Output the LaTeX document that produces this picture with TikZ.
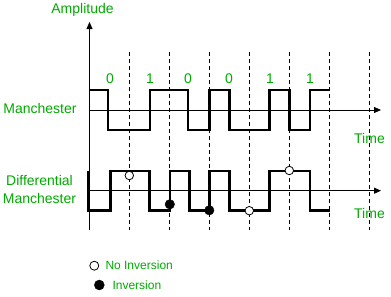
\documentclass[tikz,border=0pt]{standalone}
\usepackage{fontspec}
\setmainfont{Liberation Sans}
\usetikzlibrary{positioning, arrows.meta}
\definecolor{labelgreen}{RGB}{0,170,0}

\begin{document}
\begin{tikzpicture}[x=1pt,y=-1pt,>={Triangle[length=7pt,width=6pt]},
    label text/.style={text=labelgreen,font=\fontsize{14}{18}\selectfont,inner sep=0pt},
    legend text/.style={text=labelgreen,font=\fontsize{12}{14}\selectfont,anchor=west,inner sep=0pt},
    wave/.style={line width=2.8pt,line join=miter},
    axis line/.style={line width=0.8pt},
    grid line/.style={dashed,line width=0.7pt,dash pattern=on 4pt off 3pt},
    open dot/.style={circle,draw,fill=white,inner sep=0pt,minimum size=8.5pt,line width=0.8pt},
    full dot/.style={circle,draw,fill=black,inner sep=0pt,minimum size=9.5pt}]
    \useasboundingbox (0,0) rectangle (391,297);

    % axes
    \coordinate (origin) at (89.5,230);
    \coordinate (ytop) at (89.5,22);
    \coordinate (mstart) at (89.5,110);
    \coordinate (mend) at (381,110);
    \coordinate (dstart) at (89.5,190.7);
    \coordinate (dend) at (381,190.7);
    \draw[axis line,->] (origin) -- (ytop);
    \draw[axis line,->] (mstart) -- (mend);
    \draw[axis line,->] (dstart) -- (dend);
    \node[label text] (amp) at (82.5,10) {Amplitude};

    % bit boundaries
    \foreach \i in {1,...,7}
        \draw[grid line] (89.5+40*\i,52) -- (89.5+40*\i,230);

    % bits
    \foreach \b/\x in {0/110,1/150,0/188,0/229,1/270,1/310}
        \node[label text] (bit\x) at (\x,79) {\b};

    % Manchester signal
    \node[label text] (manch) at (40,108) {Manchester};
    \node[label text] (time1) at (369.5,138) {Time};
    \draw[wave] (89.5,90) -- (108,90) -- (108,130) -- (150,130) -- (150,90)
        -- (188,90) -- (188,130) -- (209.5,130) -- (209.5,90) -- (229.5,90)
        -- (229.5,130) -- (269.5,130) -- (269.5,90) -- (289.5,90) -- (289.5,130)
        -- (310,130) -- (310,90) -- (329.5,90);

    % Differential Manchester signal
    \node[label text,align=center] (diff) at (39.5,189) {Differential\\Manchester};
    \node[label text] (time2) at (369.5,213) {Time};
    \draw[wave] (88.5,171) -- (88.5,210.5) -- (110.5,210.5) -- (110.5,171)
        -- (149.5,171) -- (149.5,210.5) -- (170,210.5) -- (170,171) -- (189.5,171)
        -- (189.5,210.5) -- (209.5,210.5) -- (209.5,171) -- (229.5,171)
        -- (229.5,210.5) -- (269.5,210.5) -- (269.5,171) -- (310,171)
        -- (310,210.5) -- (329.5,210.5);
    \node[open dot] (n1) at (129.3,175.5) {};
    \node[full dot] (i1) at (169.8,204.3) {};
    \node[full dot] (i2) at (209.3,210.3) {};
    \node[open dot] (n2) at (249.3,210.7) {};
    \node[open dot] (n3) at (289.3,170.5) {};

    % legend
    \node[open dot,minimum size=9pt] (keyopen) at (94.3,265.7) {};
    \node[legend text,right=11pt of keyopen.center] (keyopentext) {No Inversion};
    \node[full dot,minimum size=10pt] (keyfull) at (99.3,285) {};
    \node[legend text,right=13pt of keyfull.center] (keyfulltext) {Inversion};
\end{tikzpicture}
\end{document}
